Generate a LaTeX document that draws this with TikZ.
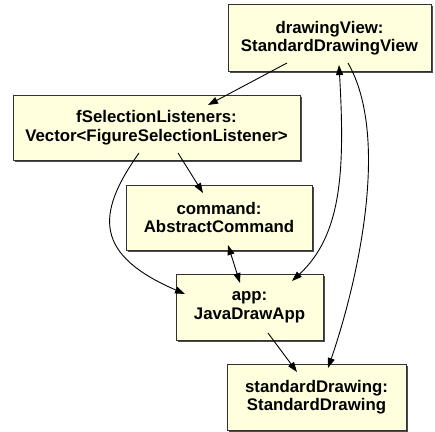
\documentclass[tikz,border=0pt]{standalone}
\usepackage{fontspec}
\setmainfont{Liberation Sans}
\usetikzlibrary{arrows.meta,calc,shadows}
\definecolor{boxfill}{RGB}{255,255,221}
\definecolor{boxline}{RGB}{50,50,50}
\tikzset{
  obj/.style={draw=boxline, line width=0.9pt, fill=boxfill, rectangle,
    align=center, inner sep=0pt,
    font=\fontsize{16.8}{18.5}\selectfont\bfseries,
    drop shadow={shadow xshift=1.8pt, shadow yshift=-1.8pt, fill=black!70, opacity=1}},
  conn/.style={line width=0.9pt, -{Triangle[length=10pt,width=7pt]}},
  biconn/.style={line width=0.9pt, {Triangle[length=10pt,width=7pt]}-{Triangle[length=10pt,width=7pt]}}
}
\begin{document}
\begin{tikzpicture}[x=1pt,y=-1pt]
\useasboundingbox (0,0) rectangle (435,431);
\node[obj, minimum width=203pt, minimum height=67pt] (dv) at (329.5,38) {drawingView:\\StandardDrawingView};
\node[obj, minimum width=287pt, minimum height=65pt] (fs) at (156.5,127.5) {fSelectionListeners:\\Vector<FigureSelectionListener>};
\node[obj, minimum width=186pt, minimum height=65pt] (cmd) at (219,217.5) {command:\\AbstractCommand};
\node[obj, minimum width=147pt, minimum height=66pt] (app) at (249.5,307) {app:\\JavaDrawApp};
\node[obj, minimum width=179pt, minimum height=66pt] (sd) at (316.5,397) {standardDrawing:\\StandardDrawing};

\draw[conn] ($(dv.center)+(-42.5,25)$) -- ($(fs.center)+(51.5,-22.5)$);
\draw[conn] ($(fs.center)+(21.5,25.5)$) -- ($(cmd.center)+(-16,-24.5)$);
\draw[conn] ($(fs.center)+(-17.5,25.5)$) .. controls (95,215) and (95,255) .. ($(app.center)+(-64.5,-13)$);
\draw[biconn] ($(cmd.center)+(9,27.5)$) -- ($(app.center)+(-9.5,-24)$);
\draw[biconn] ($(dv.center)+(9.5,27)$) .. controls (345,170) and (342,235) .. ($(app.center)+(42.5,-26)$);
\draw[conn] ($(dv.center)+(18.5,25)$) .. controls (392,140) and (355,290) .. ($(sd.center)+(11.5,-29)$);
\draw[conn] ($(app.center)+(18.5,26)$) -- ($(sd.center)+(-19.5,-25)$);
\end{tikzpicture}
\end{document}
